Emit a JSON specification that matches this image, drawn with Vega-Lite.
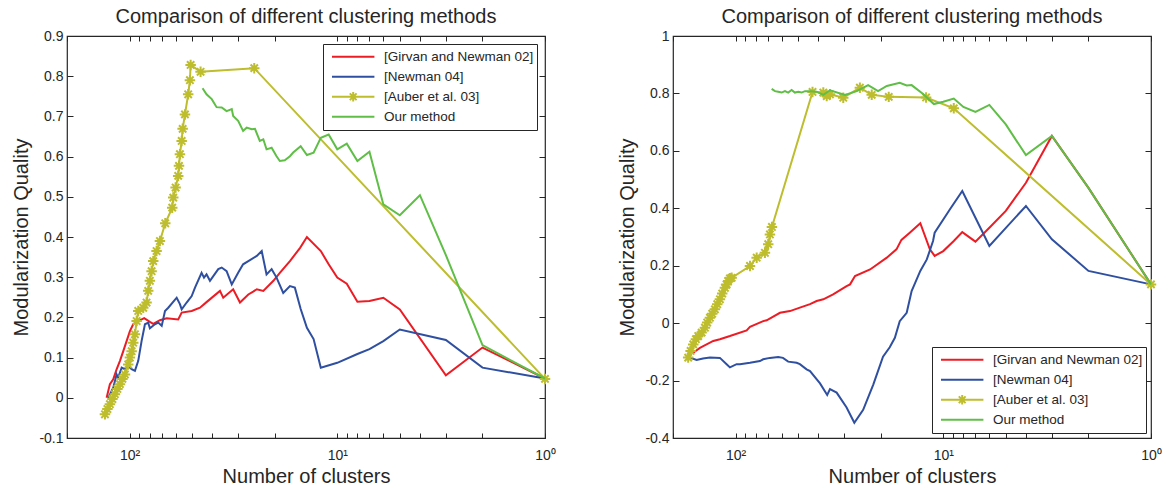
{
  "$schema": "https://vega.github.io/schema/vega-lite/v6.json",
  "background": "white",
  "padding": {"left": 11, "top": 6, "right": 0, "bottom": 0},
  "config": {
    "font": "Liberation Sans",
    "view": {"stroke": "#262626", "strokeWidth": 1.2},
    "axis": {"grid": false, "domain": false, "tickColor": "#262626", "tickWidth": 1, "labelFont": "Liberation Sans", "labelFontSize": 14, "labelColor": "#262626", "titleFont": "Liberation Sans", "titleFontSize": 20, "titleFontWeight": "normal", "titleColor": "#262626", "labelFlush": false, "labelOverlap": false},
    "title": {"font": "Liberation Sans", "fontSize": 20, "fontWeight": "normal", "color": "#262626", "offset": 2}
  },
  "spacing": 128,
  "bounds": "flush",
  "resolve": {"scale": {"color": "independent"}, "legend": {"color": "independent"}},
  "datasets": {
    "left": [
      {"m": "[Girvan and Newman 02]", "n": 128.9, "q": 0.0},
      {"m": "[Girvan and Newman 02]", "n": 124.3, "q": 0.034},
      {"m": "[Girvan and Newman 02]", "n": 119.8, "q": 0.046},
      {"m": "[Girvan and Newman 02]", "n": 115.4, "q": 0.071},
      {"m": "[Girvan and Newman 02]", "n": 111.2, "q": 0.092},
      {"m": "[Girvan and Newman 02]", "n": 107.2, "q": 0.116},
      {"m": "[Girvan and Newman 02]", "n": 103.3, "q": 0.141},
      {"m": "[Girvan and Newman 02]", "n": 99.6, "q": 0.166},
      {"m": "[Girvan and Newman 02]", "n": 96.0, "q": 0.183},
      {"m": "[Girvan and Newman 02]", "n": 90.8, "q": 0.191},
      {"m": "[Girvan and Newman 02]", "n": 85.0, "q": 0.198},
      {"m": "[Girvan and Newman 02]", "n": 79.8, "q": 0.189},
      {"m": "[Girvan and Newman 02]", "n": 76.9, "q": 0.184},
      {"m": "[Girvan and Newman 02]", "n": 71.4, "q": 0.193},
      {"m": "[Girvan and Newman 02]", "n": 66.3, "q": 0.198},
      {"m": "[Girvan and Newman 02]", "n": 58.3, "q": 0.195},
      {"m": "[Girvan and Newman 02]", "n": 56.1, "q": 0.212},
      {"m": "[Girvan and Newman 02]", "n": 50.2, "q": 0.216},
      {"m": "[Girvan and Newman 02]", "n": 45.8, "q": 0.224},
      {"m": "[Girvan and Newman 02]", "n": 42.6, "q": 0.238},
      {"m": "[Girvan and Newman 02]", "n": 36.7, "q": 0.266},
      {"m": "[Girvan and Newman 02]", "n": 35.4, "q": 0.249},
      {"m": "[Girvan and Newman 02]", "n": 31.7, "q": 0.270},
      {"m": "[Girvan and Newman 02]", "n": 29.4, "q": 0.237},
      {"m": "[Girvan and Newman 02]", "n": 26.8, "q": 0.257},
      {"m": "[Girvan and Newman 02]", "n": 25.4, "q": 0.264},
      {"m": "[Girvan and Newman 02]", "n": 24.4, "q": 0.270},
      {"m": "[Girvan and Newman 02]", "n": 22.7, "q": 0.266},
      {"m": "[Girvan and Newman 02]", "n": 20.3, "q": 0.291},
      {"m": "[Girvan and Newman 02]", "n": 18.9, "q": 0.311},
      {"m": "[Girvan and Newman 02]", "n": 16.9, "q": 0.340},
      {"m": "[Girvan and Newman 02]", "n": 15.1, "q": 0.373},
      {"m": "[Girvan and Newman 02]", "n": 14, "q": 0.400},
      {"m": "[Girvan and Newman 02]", "n": 12, "q": 0.365},
      {"m": "[Girvan and Newman 02]", "n": 11, "q": 0.332},
      {"m": "[Girvan and Newman 02]", "n": 10, "q": 0.299},
      {"m": "[Girvan and Newman 02]", "n": 9, "q": 0.284},
      {"m": "[Girvan and Newman 02]", "n": 8, "q": 0.239},
      {"m": "[Girvan and Newman 02]", "n": 7, "q": 0.241},
      {"m": "[Girvan and Newman 02]", "n": 6, "q": 0.249},
      {"m": "[Girvan and Newman 02]", "n": 5, "q": 0.220},
      {"m": "[Girvan and Newman 02]", "n": 3, "q": 0.056},
      {"m": "[Girvan and Newman 02]", "n": 2, "q": 0.125},
      {"m": "[Girvan and Newman 02]", "n": 1, "q": 0.048},
      {"m": "[Newman 04]", "n": 126.6, "q": 0.0},
      {"m": "[Newman 04]", "n": 119.8, "q": 0.025},
      {"m": "[Newman 04]", "n": 115.4, "q": 0.058},
      {"m": "[Newman 04]", "n": 113.4, "q": 0.050},
      {"m": "[Newman 04]", "n": 109.1, "q": 0.075},
      {"m": "[Newman 04]", "n": 105.2, "q": 0.071},
      {"m": "[Newman 04]", "n": 101.5, "q": 0.079},
      {"m": "[Newman 04]", "n": 97.7, "q": 0.071},
      {"m": "[Newman 04]", "n": 94.2, "q": 0.067},
      {"m": "[Newman 04]", "n": 90.8, "q": 0.092},
      {"m": "[Newman 04]", "n": 87.5, "q": 0.141},
      {"m": "[Newman 04]", "n": 84.3, "q": 0.183},
      {"m": "[Newman 04]", "n": 81.3, "q": 0.187},
      {"m": "[Newman 04]", "n": 79.8, "q": 0.173},
      {"m": "[Newman 04]", "n": 75.5, "q": 0.183},
      {"m": "[Newman 04]", "n": 72.7, "q": 0.187},
      {"m": "[Newman 04]", "n": 70.0, "q": 0.179},
      {"m": "[Newman 04]", "n": 67.5, "q": 0.216},
      {"m": "[Newman 04]", "n": 65.1, "q": 0.224},
      {"m": "[Newman 04]", "n": 59.3, "q": 0.249},
      {"m": "[Newman 04]", "n": 57.2, "q": 0.233},
      {"m": "[Newman 04]", "n": 56.1, "q": 0.220},
      {"m": "[Newman 04]", "n": 53.1, "q": 0.237},
      {"m": "[Newman 04]", "n": 50.2, "q": 0.253},
      {"m": "[Newman 04]", "n": 48.4, "q": 0.274},
      {"m": "[Newman 04]", "n": 45.0, "q": 0.311},
      {"m": "[Newman 04]", "n": 43.8, "q": 0.299},
      {"m": "[Newman 04]", "n": 42.6, "q": 0.307},
      {"m": "[Newman 04]", "n": 41.0, "q": 0.291},
      {"m": "[Newman 04]", "n": 37.4, "q": 0.320},
      {"m": "[Newman 04]", "n": 36.0, "q": 0.324},
      {"m": "[Newman 04]", "n": 34.1, "q": 0.315},
      {"m": "[Newman 04]", "n": 32.2, "q": 0.282},
      {"m": "[Newman 04]", "n": 30.0, "q": 0.311},
      {"m": "[Newman 04]", "n": 28.4, "q": 0.332},
      {"m": "[Newman 04]", "n": 26.8, "q": 0.340},
      {"m": "[Newman 04]", "n": 24.4, "q": 0.353},
      {"m": "[Newman 04]", "n": 23.1, "q": 0.365},
      {"m": "[Newman 04]", "n": 21.9, "q": 0.307},
      {"m": "[Newman 04]", "n": 20.7, "q": 0.320},
      {"m": "[Newman 04]", "n": 19.6, "q": 0.299},
      {"m": "[Newman 04]", "n": 18.2, "q": 0.261},
      {"m": "[Newman 04]", "n": 16.9, "q": 0.278},
      {"m": "[Newman 04]", "n": 16.0, "q": 0.274},
      {"m": "[Newman 04]", "n": 15, "q": 0.221},
      {"m": "[Newman 04]", "n": 14, "q": 0.174},
      {"m": "[Newman 04]", "n": 13, "q": 0.146},
      {"m": "[Newman 04]", "n": 12, "q": 0.075},
      {"m": "[Newman 04]", "n": 10, "q": 0.087},
      {"m": "[Newman 04]", "n": 8, "q": 0.109},
      {"m": "[Newman 04]", "n": 7, "q": 0.121},
      {"m": "[Newman 04]", "n": 6, "q": 0.141},
      {"m": "[Newman 04]", "n": 5, "q": 0.170},
      {"m": "[Newman 04]", "n": 3, "q": 0.144},
      {"m": "[Newman 04]", "n": 2, "q": 0.075},
      {"m": "[Newman 04]", "n": 1, "q": 0.048},
      {"m": "[Auber et al. 03]", "n": 131.3, "q": -0.041},
      {"m": "[Auber et al. 03]", "n": 127.8, "q": -0.028},
      {"m": "[Auber et al. 03]", "n": 124.3, "q": -0.016},
      {"m": "[Auber et al. 03]", "n": 120.9, "q": -0.003},
      {"m": "[Auber et al. 03]", "n": 117.6, "q": 0.009},
      {"m": "[Auber et al. 03]", "n": 114.4, "q": 0.022},
      {"m": "[Auber et al. 03]", "n": 111.2, "q": 0.034},
      {"m": "[Auber et al. 03]", "n": 108.2, "q": 0.047},
      {"m": "[Auber et al. 03]", "n": 105.2, "q": 0.058},
      {"m": "[Auber et al. 03]", "n": 101.5, "q": 0.083},
      {"m": "[Auber et al. 03]", "n": 99.6, "q": 0.100},
      {"m": "[Auber et al. 03]", "n": 97.7, "q": 0.116},
      {"m": "[Auber et al. 03]", "n": 96.0, "q": 0.137},
      {"m": "[Auber et al. 03]", "n": 94.2, "q": 0.158},
      {"m": "[Auber et al. 03]", "n": 92.4, "q": 0.191},
      {"m": "[Auber et al. 03]", "n": 90.8, "q": 0.216},
      {"m": "[Auber et al. 03]", "n": 85.9, "q": 0.224},
      {"m": "[Auber et al. 03]", "n": 82.8, "q": 0.237},
      {"m": "[Auber et al. 03]", "n": 81.3, "q": 0.266},
      {"m": "[Auber et al. 03]", "n": 79.8, "q": 0.291},
      {"m": "[Auber et al. 03]", "n": 78.3, "q": 0.315},
      {"m": "[Auber et al. 03]", "n": 76.9, "q": 0.340},
      {"m": "[Auber et al. 03]", "n": 74.1, "q": 0.365},
      {"m": "[Auber et al. 03]", "n": 71.4, "q": 0.390},
      {"m": "[Auber et al. 03]", "n": 67.3, "q": 0.434},
      {"m": "[Auber et al. 03]", "n": 62.3, "q": 0.473},
      {"m": "[Auber et al. 03]", "n": 61.6, "q": 0.498},
      {"m": "[Auber et al. 03]", "n": 60.0, "q": 0.523},
      {"m": "[Auber et al. 03]", "n": 58.3, "q": 0.552},
      {"m": "[Auber et al. 03]", "n": 57.8, "q": 0.577},
      {"m": "[Auber et al. 03]", "n": 57.2, "q": 0.606},
      {"m": "[Auber et al. 03]", "n": 56.1, "q": 0.639},
      {"m": "[Auber et al. 03]", "n": 55.5, "q": 0.669},
      {"m": "[Auber et al. 03]", "n": 54.1, "q": 0.705},
      {"m": "[Auber et al. 03]", "n": 52.2, "q": 0.755},
      {"m": "[Auber et al. 03]", "n": 51.2, "q": 0.790},
      {"m": "[Auber et al. 03]", "n": 50.8, "q": 0.828},
      {"m": "[Auber et al. 03]", "n": 45.5, "q": 0.811},
      {"m": "[Auber et al. 03]", "n": 25.1, "q": 0.820},
      {"m": "[Auber et al. 03]", "n": 1, "q": 0.047},
      {"m": "Our method", "n": 44.5, "q": 0.770},
      {"m": "Our method", "n": 42.6, "q": 0.755},
      {"m": "Our method", "n": 40.2, "q": 0.743},
      {"m": "Our method", "n": 38.1, "q": 0.723},
      {"m": "Our method", "n": 36.0, "q": 0.722},
      {"m": "Our method", "n": 34.1, "q": 0.713},
      {"m": "Our method", "n": 32.2, "q": 0.718},
      {"m": "Our method", "n": 31.7, "q": 0.701},
      {"m": "Our method", "n": 30.0, "q": 0.689},
      {"m": "Our method", "n": 28.4, "q": 0.664},
      {"m": "Our method", "n": 27.3, "q": 0.672},
      {"m": "Our method", "n": 25.8, "q": 0.668},
      {"m": "Our method", "n": 24.9, "q": 0.669},
      {"m": "Our method", "n": 23.6, "q": 0.639},
      {"m": "Our method", "n": 22.7, "q": 0.643},
      {"m": "Our method", "n": 21.9, "q": 0.618},
      {"m": "Our method", "n": 20.7, "q": 0.622},
      {"m": "Our method", "n": 19.6, "q": 0.601},
      {"m": "Our method", "n": 18.9, "q": 0.589},
      {"m": "Our method", "n": 17.9, "q": 0.591},
      {"m": "Our method", "n": 16.9, "q": 0.601},
      {"m": "Our method", "n": 16.3, "q": 0.610},
      {"m": "Our method", "n": 15, "q": 0.626},
      {"m": "Our method", "n": 14, "q": 0.604},
      {"m": "Our method", "n": 13, "q": 0.610},
      {"m": "Our method", "n": 12, "q": 0.647},
      {"m": "Our method", "n": 11, "q": 0.655},
      {"m": "Our method", "n": 10, "q": 0.618},
      {"m": "Our method", "n": 9, "q": 0.632},
      {"m": "Our method", "n": 8, "q": 0.589},
      {"m": "Our method", "n": 7, "q": 0.612},
      {"m": "Our method", "n": 6, "q": 0.481},
      {"m": "Our method", "n": 5, "q": 0.454},
      {"m": "Our method", "n": 4, "q": 0.504},
      {"m": "Our method", "n": 3, "q": 0.355},
      {"m": "Our method", "n": 2, "q": 0.131},
      {"m": "Our method", "n": 1, "q": 0.048}
    ],
    "right": [
      {"m": "[Girvan and Newman 02]", "n": 159.8, "q": -0.103},
      {"m": "[Girvan and Newman 02]", "n": 148.4, "q": -0.086},
      {"m": "[Girvan and Newman 02]", "n": 128.0, "q": -0.062},
      {"m": "[Girvan and Newman 02]", "n": 118.9, "q": -0.056},
      {"m": "[Girvan and Newman 02]", "n": 106.4, "q": -0.045},
      {"m": "[Girvan and Newman 02]", "n": 88.4, "q": -0.025},
      {"m": "[Girvan and Newman 02]", "n": 85.2, "q": -0.013},
      {"m": "[Girvan and Newman 02]", "n": 73.6, "q": 0.007},
      {"m": "[Girvan and Newman 02]", "n": 70.8, "q": 0.010},
      {"m": "[Girvan and Newman 02]", "n": 61.1, "q": 0.036},
      {"m": "[Girvan and Newman 02]", "n": 54.7, "q": 0.042},
      {"m": "[Girvan and Newman 02]", "n": 49.0, "q": 0.054},
      {"m": "[Girvan and Newman 02]", "n": 43.8, "q": 0.066},
      {"m": "[Girvan and Newman 02]", "n": 40.7, "q": 0.077},
      {"m": "[Girvan and Newman 02]", "n": 37.8, "q": 0.083},
      {"m": "[Girvan and Newman 02]", "n": 33.9, "q": 0.100},
      {"m": "[Girvan and Newman 02]", "n": 29.2, "q": 0.129},
      {"m": "[Girvan and Newman 02]", "n": 28.1, "q": 0.135},
      {"m": "[Girvan and Newman 02]", "n": 26.6, "q": 0.164},
      {"m": "[Girvan and Newman 02]", "n": 22.5, "q": 0.187},
      {"m": "[Girvan and Newman 02]", "n": 18.7, "q": 0.228},
      {"m": "[Girvan and Newman 02]", "n": 16.8, "q": 0.257},
      {"m": "[Girvan and Newman 02]", "n": 15.9, "q": 0.290},
      {"m": "[Girvan and Newman 02]", "n": 14.5, "q": 0.315},
      {"m": "[Girvan and Newman 02]", "n": 12.9, "q": 0.348},
      {"m": "[Girvan and Newman 02]", "n": 11.6, "q": 0.257},
      {"m": "[Girvan and Newman 02]", "n": 11.0, "q": 0.234},
      {"m": "[Girvan and Newman 02]", "n": 10, "q": 0.251},
      {"m": "[Girvan and Newman 02]", "n": 8.9, "q": 0.286},
      {"m": "[Girvan and Newman 02]", "n": 8.1, "q": 0.317},
      {"m": "[Girvan and Newman 02]", "n": 7, "q": 0.284},
      {"m": "[Girvan and Newman 02]", "n": 6, "q": 0.332},
      {"m": "[Girvan and Newman 02]", "n": 5, "q": 0.391},
      {"m": "[Girvan and Newman 02]", "n": 4, "q": 0.489},
      {"m": "[Girvan and Newman 02]", "n": 3, "q": 0.652},
      {"m": "[Girvan and Newman 02]", "n": 2, "q": 0.471},
      {"m": "[Girvan and Newman 02]", "n": 1, "q": 0.135},
      {"m": "[Newman 04]", "n": 165.8, "q": -0.120},
      {"m": "[Newman 04]", "n": 153.9, "q": -0.128},
      {"m": "[Newman 04]", "n": 143.5, "q": -0.123},
      {"m": "[Newman 04]", "n": 132.8, "q": -0.120},
      {"m": "[Newman 04]", "n": 118.9, "q": -0.121},
      {"m": "[Newman 04]", "n": 110.4, "q": -0.143},
      {"m": "[Newman 04]", "n": 106.4, "q": -0.154},
      {"m": "[Newman 04]", "n": 98.8, "q": -0.143},
      {"m": "[Newman 04]", "n": 95.2, "q": -0.143},
      {"m": "[Newman 04]", "n": 85.2, "q": -0.138},
      {"m": "[Newman 04]", "n": 76.3, "q": -0.132},
      {"m": "[Newman 04]", "n": 73.6, "q": -0.126},
      {"m": "[Newman 04]", "n": 68.3, "q": -0.121},
      {"m": "[Newman 04]", "n": 62.3, "q": -0.118},
      {"m": "[Newman 04]", "n": 59.1, "q": -0.121},
      {"m": "[Newman 04]", "n": 55.8, "q": -0.134},
      {"m": "[Newman 04]", "n": 50.8, "q": -0.138},
      {"m": "[Newman 04]", "n": 49.0, "q": -0.143},
      {"m": "[Newman 04]", "n": 45.5, "q": -0.161},
      {"m": "[Newman 04]", "n": 43.8, "q": -0.167},
      {"m": "[Newman 04]", "n": 39.2, "q": -0.210},
      {"m": "[Newman 04]", "n": 36.2, "q": -0.250},
      {"m": "[Newman 04]", "n": 35.1, "q": -0.230},
      {"m": "[Newman 04]", "n": 32.6, "q": -0.242},
      {"m": "[Newman 04]", "n": 29.2, "q": -0.294},
      {"m": "[Newman 04]", "n": 26.8, "q": -0.347},
      {"m": "[Newman 04]", "n": 24.3, "q": -0.302},
      {"m": "[Newman 04]", "n": 21.7, "q": -0.213},
      {"m": "[Newman 04]", "n": 19.5, "q": -0.117},
      {"m": "[Newman 04]", "n": 18.1, "q": -0.084},
      {"m": "[Newman 04]", "n": 17.1, "q": -0.051},
      {"m": "[Newman 04]", "n": 16.2, "q": 0.007},
      {"m": "[Newman 04]", "n": 15.0, "q": 0.036},
      {"m": "[Newman 04]", "n": 14.2, "q": 0.112},
      {"m": "[Newman 04]", "n": 12.9, "q": 0.182},
      {"m": "[Newman 04]", "n": 12.0, "q": 0.222},
      {"m": "[Newman 04]", "n": 11.2, "q": 0.286},
      {"m": "[Newman 04]", "n": 11.0, "q": 0.315},
      {"m": "[Newman 04]", "n": 9.3, "q": 0.396},
      {"m": "[Newman 04]", "n": 8.1, "q": 0.460},
      {"m": "[Newman 04]", "n": 6, "q": 0.269},
      {"m": "[Newman 04]", "n": 4, "q": 0.408},
      {"m": "[Newman 04]", "n": 3, "q": 0.292},
      {"m": "[Newman 04]", "n": 2, "q": 0.182},
      {"m": "[Newman 04]", "n": 1, "q": 0.135},
      {"m": "[Auber et al. 03]", "n": 169.0, "q": -0.120},
      {"m": "[Auber et al. 03]", "n": 164.5, "q": -0.097},
      {"m": "[Auber et al. 03]", "n": 159.8, "q": -0.074},
      {"m": "[Auber et al. 03]", "n": 155.1, "q": -0.056},
      {"m": "[Auber et al. 03]", "n": 151.2, "q": -0.045},
      {"m": "[Auber et al. 03]", "n": 145.6, "q": -0.033},
      {"m": "[Auber et al. 03]", "n": 140.4, "q": -0.016},
      {"m": "[Auber et al. 03]", "n": 136.9, "q": 0.002},
      {"m": "[Auber et al. 03]", "n": 132.8, "q": 0.019},
      {"m": "[Auber et al. 03]", "n": 129.5, "q": 0.033},
      {"m": "[Auber et al. 03]", "n": 125.7, "q": 0.048},
      {"m": "[Auber et al. 03]", "n": 122.5, "q": 0.066},
      {"m": "[Auber et al. 03]", "n": 118.9, "q": 0.083},
      {"m": "[Auber et al. 03]", "n": 115.9, "q": 0.103},
      {"m": "[Auber et al. 03]", "n": 112.5, "q": 0.123},
      {"m": "[Auber et al. 03]", "n": 110.4, "q": 0.135},
      {"m": "[Auber et al. 03]", "n": 108.5, "q": 0.147},
      {"m": "[Auber et al. 03]", "n": 106.4, "q": 0.156},
      {"m": "[Auber et al. 03]", "n": 104.4, "q": 0.158},
      {"m": "[Auber et al. 03]", "n": 85.2, "q": 0.199},
      {"m": "[Auber et al. 03]", "n": 79.1, "q": 0.228},
      {"m": "[Auber et al. 03]", "n": 72.2, "q": 0.245},
      {"m": "[Auber et al. 03]", "n": 69.6, "q": 0.275},
      {"m": "[Auber et al. 03]", "n": 68.3, "q": 0.309},
      {"m": "[Auber et al. 03]", "n": 66.8, "q": 0.335},
      {"m": "[Auber et al. 03]", "n": 42.6, "q": 0.805},
      {"m": "[Auber et al. 03]", "n": 37.8, "q": 0.803},
      {"m": "[Auber et al. 03]", "n": 36.4, "q": 0.791},
      {"m": "[Auber et al. 03]", "n": 35.1, "q": 0.797},
      {"m": "[Auber et al. 03]", "n": 30.3, "q": 0.785},
      {"m": "[Auber et al. 03]", "n": 25.2, "q": 0.820},
      {"m": "[Auber et al. 03]", "n": 22.1, "q": 0.795},
      {"m": "[Auber et al. 03]", "n": 18.3, "q": 0.788},
      {"m": "[Auber et al. 03]", "n": 12.1, "q": 0.786},
      {"m": "[Auber et al. 03]", "n": 8.9, "q": 0.748},
      {"m": "[Auber et al. 03]", "n": 1, "q": 0.135},
      {"m": "Our method", "n": 67.0, "q": 0.816},
      {"m": "Our method", "n": 64.6, "q": 0.808},
      {"m": "Our method", "n": 62.3, "q": 0.806},
      {"m": "Our method", "n": 60.0, "q": 0.803},
      {"m": "Our method", "n": 57.8, "q": 0.808},
      {"m": "Our method", "n": 55.8, "q": 0.803},
      {"m": "Our method", "n": 53.7, "q": 0.812},
      {"m": "Our method", "n": 51.8, "q": 0.803},
      {"m": "Our method", "n": 49.9, "q": 0.806},
      {"m": "Our method", "n": 48.1, "q": 0.803},
      {"m": "Our method", "n": 46.3, "q": 0.808},
      {"m": "Our method", "n": 43.8, "q": 0.808},
      {"m": "Our method", "n": 40.7, "q": 0.806},
      {"m": "Our method", "n": 37.8, "q": 0.795},
      {"m": "Our method", "n": 35.1, "q": 0.811},
      {"m": "Our method", "n": 29.7, "q": 0.795},
      {"m": "Our method", "n": 26.1, "q": 0.808},
      {"m": "Our method", "n": 23.0, "q": 0.829},
      {"m": "Our method", "n": 20.6, "q": 0.808},
      {"m": "Our method", "n": 18.7, "q": 0.826},
      {"m": "Our method", "n": 16.2, "q": 0.837},
      {"m": "Our method", "n": 15.0, "q": 0.828},
      {"m": "Our method", "n": 14.2, "q": 0.829},
      {"m": "Our method", "n": 12.5, "q": 0.798},
      {"m": "Our method", "n": 11.1, "q": 0.763},
      {"m": "Our method", "n": 10, "q": 0.771},
      {"m": "Our method", "n": 8.9, "q": 0.782},
      {"m": "Our method", "n": 8, "q": 0.753},
      {"m": "Our method", "n": 7, "q": 0.736},
      {"m": "Our method", "n": 6, "q": 0.760},
      {"m": "Our method", "n": 5, "q": 0.692},
      {"m": "Our method", "n": 4, "q": 0.585},
      {"m": "Our method", "n": 3, "q": 0.652},
      {"m": "Our method", "n": 2, "q": 0.471},
      {"m": "Our method", "n": 1, "q": 0.135}
    ]
  },
  "hconcat": [
    {
      "width": 478,
      "height": 402,
      "title": "Comparison of different clustering methods",
      "data": {"name": "left"},
      "layer": [
        {
          "encoding": {
            "x": {"field": "n", "type": "quantitative", "scale": {"type": "log", "domain": [1, 200], "reverse": true, "nice": false}, "axis": {"title": "Number of clusters", "values": [1,2,3,4,5,6,7,8,9,10,20,30,40,50,60,70,80,90,100,200], "labelExpr": "datum.value === 100 ? '10²' : datum.value === 10 ? '10¹' : datum.value === 1 ? '10⁰' : ''", "offset": -5, "tickSize": 5, "labelPadding": 10, "titlePadding": 4}},
            "y": {"field": "q", "type": "quantitative", "scale": {"domain": [-0.1, 0.9], "nice": false, "zero": false}, "axis": {"title": "Modularization Quality", "values": [-0.1,0,0.1,0.2,0.3,0.4,0.5,0.6,0.7,0.8,0.9], "labelExpr": "datum.value === 0 ? '0' : datum.value === 1 ? '1' : (datum.value < 0 ? '-' : '') + format(abs(datum.value), '.1f')", "offset": -6, "tickSize": 6, "labelPadding": 4, "titlePadding": 7}},
            "color": {"field": "m", "type": "nominal", "scale": {"domain": ["[Girvan and Newman 02]", "[Newman 04]", "[Auber et al. 03]", "Our method"], "range": ["#ec1c24", "#2f4fa0", "#bdbd2e", "#5fbe46"]},
              "legend": {"title": null, "orient": "none", "legendX": 256, "legendY": 8, "direction": "vertical", "strokeColor": "#262626", "fillColor": "white", "padding": 3, "clipHeight": 19.5, "rowPadding": 0, "symbolType": "stroke", "symbolSize": 1800, "symbolStrokeWidth": 2, "symbolOffset": 4.7, "labelFont": "Liberation Sans", "labelFontSize": 13.5, "labelColor": "#262626", "labelOffset": 8.3, "labelLimit": 300,
                "encode": {"symbols": {"update": {"shape": [{"test": "datum.value === '[Auber et al. 03]'", "value": "M-1,0H1M0,-0.22V0.22M-0.16,-0.16L0.16,0.16M-0.16,0.16L0.16,-0.16"}, {"value": "stroke"}], "fill": {"value": "transparent"}}}}}}
          },
          "layer": [
            {"transform": [{"filter": "datum.m === '[Girvan and Newman 02]'"}], "mark": {"type": "line", "strokeWidth": 2}},
            {"transform": [{"filter": "datum.m === '[Newman 04]'"}], "mark": {"type": "line", "strokeWidth": 2}},
            {"transform": [{"filter": "datum.m === '[Auber et al. 03]'"}], "mark": {"type": "line", "strokeWidth": 2}},
            {"transform": [{"filter": "datum.m === '[Auber et al. 03]'"}], "mark": {"type": "point", "shape": "M-1,0H1M0,-1V1M-0.7,-0.7L0.7,0.7M-0.7,0.7L0.7,-0.7", "size": 110, "strokeWidth": 2, "filled": false, "opacity": 1}},
            {"transform": [{"filter": "datum.m === 'Our method'"}], "mark": {"type": "line", "strokeWidth": 2}}
          ]
        },
        {
          "mark": {"type": "point", "opacity": 0},
          "encoding": {
            "x": {"field": "n", "type": "quantitative", "scale": {"type": "log", "domain": [1, 200], "reverse": true, "nice": false}, "axis": {"orient": "top", "title": null, "labels": false, "values": [1,2,3,4,5,6,7,8,9,10,20,30,40,50,60,70,80,90,100,200], "offset": -5, "tickSize": 5}},
            "y": {"field": "q", "type": "quantitative", "scale": {"domain": [-0.1, 0.9], "nice": false, "zero": false}, "axis": {"orient": "right", "title": null, "labels": false, "values": [-0.1,0,0.1,0.2,0.3,0.4,0.5,0.6,0.7,0.8,0.9], "offset": -6, "tickSize": 6}}
          }
        }
      ],
      "resolve": {"axis": {"x": "independent", "y": "independent"}}
    },
    {
      "width": 478,
      "height": 402,
      "title": "Comparison of different clustering methods",
      "data": {"name": "right"},
      "layer": [
        {
          "encoding": {
            "x": {"field": "n", "type": "quantitative", "scale": {"type": "log", "domain": [1, 200], "reverse": true, "nice": false}, "axis": {"title": "Number of clusters", "values": [1,2,3,4,5,6,7,8,9,10,20,30,40,50,60,70,80,90,100,200], "labelExpr": "datum.value === 100 ? '10²' : datum.value === 10 ? '10¹' : datum.value === 1 ? '10⁰' : ''", "offset": -5, "tickSize": 5, "labelPadding": 10, "titlePadding": 4}},
            "y": {"field": "q", "type": "quantitative", "scale": {"domain": [-0.4, 1], "nice": false, "zero": false}, "axis": {"title": "Modularization Quality", "values": [-0.4,-0.2,0,0.2,0.4,0.6,0.8,1], "labelExpr": "datum.value === 0 ? '0' : datum.value === 1 ? '1' : (datum.value < 0 ? '-' : '') + format(abs(datum.value), '.1f')", "offset": -6, "tickSize": 6, "labelPadding": 4, "titlePadding": 7}},
            "color": {"field": "m", "type": "nominal", "scale": {"domain": ["[Girvan and Newman 02]", "[Newman 04]", "[Auber et al. 03]", "Our method"], "range": ["#ec1c24", "#2f4fa0", "#bdbd2e", "#5fbe46"]},
              "legend": {"title": null, "orient": "none", "legendX": 259, "legendY": 311, "direction": "vertical", "strokeColor": "#262626", "fillColor": "white", "padding": 3, "clipHeight": 19.5, "rowPadding": 0, "symbolType": "stroke", "symbolSize": 1800, "symbolStrokeWidth": 2, "symbolOffset": 4.7, "labelFont": "Liberation Sans", "labelFontSize": 13.5, "labelColor": "#262626", "labelOffset": 8.3, "labelLimit": 300,
                "encode": {"symbols": {"update": {"shape": [{"test": "datum.value === '[Auber et al. 03]'", "value": "M-1,0H1M0,-0.22V0.22M-0.16,-0.16L0.16,0.16M-0.16,0.16L0.16,-0.16"}, {"value": "stroke"}], "fill": {"value": "transparent"}}}}}}
          },
          "layer": [
            {"transform": [{"filter": "datum.m === '[Girvan and Newman 02]'"}], "mark": {"type": "line", "strokeWidth": 2}},
            {"transform": [{"filter": "datum.m === '[Newman 04]'"}], "mark": {"type": "line", "strokeWidth": 2}},
            {"transform": [{"filter": "datum.m === '[Auber et al. 03]'"}], "mark": {"type": "line", "strokeWidth": 2}},
            {"transform": [{"filter": "datum.m === '[Auber et al. 03]'"}], "mark": {"type": "point", "shape": "M-1,0H1M0,-1V1M-0.7,-0.7L0.7,0.7M-0.7,0.7L0.7,-0.7", "size": 110, "strokeWidth": 2, "filled": false, "opacity": 1}},
            {"transform": [{"filter": "datum.m === 'Our method'"}], "mark": {"type": "line", "strokeWidth": 2}}
          ]
        },
        {
          "mark": {"type": "point", "opacity": 0},
          "encoding": {
            "x": {"field": "n", "type": "quantitative", "scale": {"type": "log", "domain": [1, 200], "reverse": true, "nice": false}, "axis": {"orient": "top", "title": null, "labels": false, "values": [1,2,3,4,5,6,7,8,9,10,20,30,40,50,60,70,80,90,100,200], "offset": -5, "tickSize": 5}},
            "y": {"field": "q", "type": "quantitative", "scale": {"domain": [-0.4, 1], "nice": false, "zero": false}, "axis": {"orient": "right", "title": null, "labels": false, "values": [-0.4,-0.2,0,0.2,0.4,0.6,0.8,1], "offset": -6, "tickSize": 6}}
          }
        }
      ],
      "resolve": {"axis": {"x": "independent", "y": "independent"}}
    }
  ]
}
